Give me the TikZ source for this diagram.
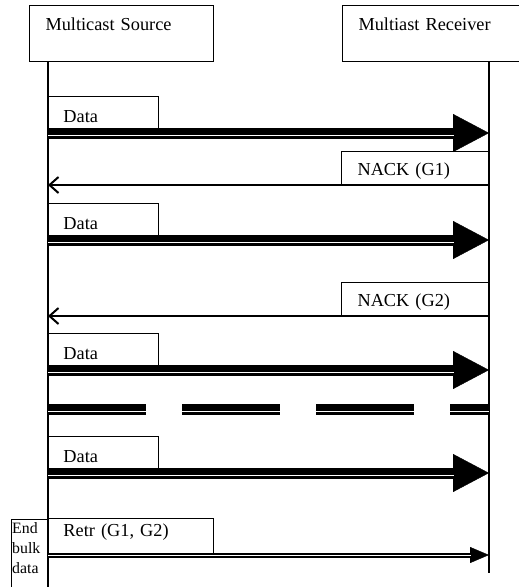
\documentclass[tikz,border=0pt]{standalone}
\usepackage{fontspec}
\setmainfont{Liberation Serif}
\usetikzlibrary{arrows.meta}

\tikzset{
  actor/.style={draw, line width=1pt, anchor=north west, align=left, inner xsep=16pt, inner ysep=0pt, text height=25pt, text depth=31pt},
  tagbox/.style={draw, line width=0.9pt, align=left, inner ysep=0pt, inner xsep=15pt},
  lifeline/.style={line width=1.3pt},
  bulk/.style={line width=11pt, -{Triangle[length=36pt,width=38pt,line width=0.4pt]},
    postaction={draw,-,white,line width=5pt,shorten >=35pt},
    postaction={draw,-,black,line width=3.2pt,shorten >=35pt}},
  gap/.style={line width=11pt, dash pattern=on 98pt off 36pt,
    postaction={draw,white,line width=5pt,dash pattern=on 98pt off 36pt},
    postaction={draw,black,line width=3.2pt,dash pattern=on 98pt off 36pt}},
  nack/.style={line width=2pt, {Straight Barb[length=9pt,width=16pt]}-},
  retr/.style={line width=5pt, -{Triangle[length=19pt,width=16pt,line width=0.4pt]},
    postaction={draw,-,white,line width=1pt,shorten >=18pt}},
}

\begin{document}
\begin{tikzpicture}[x=1pt, y=-1pt, font=\fontsize{18.3}{22}\selectfont]
        \useasboundingbox (0,0) rectangle (519,587);

        \node[actor, text width=152pt] (source) at (29,5) {Multicast Source};
        \node[actor, text width=160pt] (receiver) at (342,5) {Multiast Receiver};

        \coordinate (src) at (48,61);
        \coordinate (rcv) at (489,61);
        \draw[lifeline] (src) -- (48,590);
        \draw[lifeline] (rcv) -- (489,573);

        \coordinate (m1) at (0,133);
        \coordinate (n1) at (0,185);
        \coordinate (m2) at (0,240);
        \coordinate (n2) at (0,316);
        \coordinate (m3) at (0,370);
        \coordinate (g) at (0,409);
        \coordinate (m4) at (0,473);
        \coordinate (r) at (0,555);

        \node[tagbox, anchor=south west, text width=80pt, text height=26pt, text depth=10pt] (data1) at (src|-m1) {Data};
        \draw[bulk] (src|-m1) -- (rcv|-m1);

        \node[tagbox, anchor=south east, inner xsep=16pt, text width=115pt, text height=24pt, text depth=9pt] (nack1) at (rcv|-n1) {NACK (G1)};
        \draw[nack] (src|-n1) -- (rcv|-n1);

        \node[tagbox, anchor=south west, text width=80pt, text height=26pt, text depth=10pt] (data2) at (src|-m2) {Data};
        \draw[bulk] (src|-m2) -- (rcv|-m2);

        \node[tagbox, anchor=south east, inner xsep=16pt, text width=115pt, text height=24pt, text depth=9pt] (nack2) at (rcv|-n2) {NACK (G2)};
        \draw[nack] (src|-n2) -- ([xshift=1pt]rcv|-n2);

        \node[tagbox, anchor=south west, text width=80pt, text height=26pt, text depth=10pt] (data3) at (src|-m3) {Data};
        \draw[bulk] (src|-m3) -- (rcv|-m3);

        \draw[gap] (src|-g) -- (rcv|-g);

        \node[tagbox, anchor=south west, text width=80pt, text height=26pt, text depth=10pt] (data4) at (src|-m4) {Data};
        \draw[bulk] (src|-m4) -- (rcv|-m4);

        \node[tagbox, anchor=south west, text width=135pt, text height=18pt, text depth=18pt] (retr) at (src|-r) {Retr (G1, G2)};
        \draw[retr] (src|-r) -- (rcv|-r);

        \draw[line width=0.9pt] (11,592) -- (11,519) -- (48,519);
        \node[anchor=north west, inner sep=0pt, text width=36pt, align=left, font=\fontsize{15.8}{20}\selectfont] (endbulk) at (12,522) {End\\bulk\\data};
\end{tikzpicture}
\end{document}
